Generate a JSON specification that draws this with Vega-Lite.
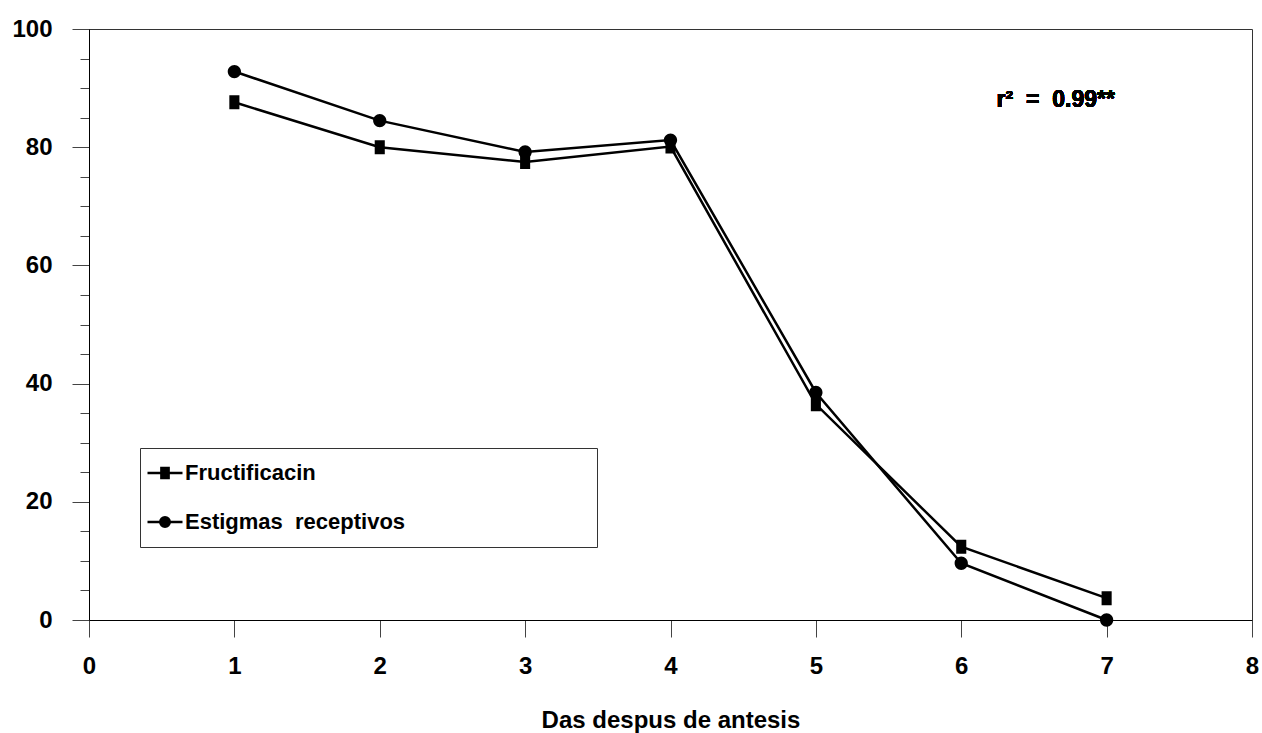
{
  "$schema": "https://vega.github.io/schema/vega-lite/v6.json",
  "width": 1163,
  "height": 591,
  "autosize": "none",
  "padding": {"left": 89, "top": 29, "right": 10, "bottom": 113},
  "background": "white",
  "config": {
    "font": "Liberation Sans",
    "view": {"stroke": "#333", "strokeWidth": 1}
  },
  "data": {
    "values": [
      {"dia": 1, "valor": 87.6, "serie": "Fructificacin"},
      {"dia": 2, "valor": 80.0, "serie": "Fructificacin"},
      {"dia": 3, "valor": 77.5, "serie": "Fructificacin"},
      {"dia": 4, "valor": 80.1, "serie": "Fructificacin"},
      {"dia": 5, "valor": 36.5, "serie": "Fructificacin"},
      {"dia": 6, "valor": 12.4, "serie": "Fructificacin"},
      {"dia": 7, "valor": 3.7, "serie": "Fructificacin"},
      {"dia": 1, "valor": 92.8, "serie": "Estigmas receptivos"},
      {"dia": 2, "valor": 84.5, "serie": "Estigmas receptivos"},
      {"dia": 3, "valor": 79.2, "serie": "Estigmas receptivos"},
      {"dia": 4, "valor": 81.2, "serie": "Estigmas receptivos"},
      {"dia": 5, "valor": 38.5, "serie": "Estigmas receptivos"},
      {"dia": 6, "valor": 9.6, "serie": "Estigmas receptivos"},
      {"dia": 7, "valor": 0, "serie": "Estigmas receptivos"}
    ]
  },
  "layer": [
    {
      "mark": {"type": "line", "color": "black", "strokeWidth": 2.5},
      "encoding": {
        "x": {
          "field": "dia", "type": "quantitative",
          "scale": {"domain": [0, 8], "nice": false, "zero": false},
          "axis": {
            "values": [0, 1, 2, 3, 4, 5, 6, 7, 8],
            "format": "d",
            "grid": false,
            "tickSize": 17, "tickColor": "#444", "domainColor": "black",
            "labelFontSize": 24, "labelFontWeight": "bold", "labelColor": "black",
            "labelPadding": 17, "labelFlush": false, "labelOverlap": false,
            "title": "Das despus de antesis",
            "titleFontSize": 24, "titleFontWeight": "bold", "titleColor": "black",
            "titlePadding": 30
          }
        },
        "y": {
          "field": "valor", "type": "quantitative",
          "scale": {"domain": [0, 100], "nice": false},
          "axis": {
            "orient": "left",
            "values": [0, 20, 40, 60, 80, 100],
            "format": "d",
            "grid": false,
            "tickSize": 17, "tickColor": "#444", "domainColor": "black",
            "labelFontSize": 24, "labelFontWeight": "bold", "labelColor": "black",
            "labelPadding": 20, "labelFlush": false, "labelOverlap": false,
            "title": null
          }
        },
        "detail": {"field": "serie", "type": "nominal"}
      }
    },
    {
      "mark": {"type": "point", "filled": true, "color": "black", "opacity": 1, "size": 196, "strokeWidth": 0},
      "encoding": {
        "x": {"field": "dia", "type": "quantitative"},
        "y": {
          "field": "valor", "type": "quantitative",
          "axis": {
            "orient": "left",
            "values": [0, 5, 10, 15, 20, 25, 30, 35, 40, 45, 50, 55, 60, 65, 70, 75, 80, 85, 90, 95, 100],
            "grid": false, "labels": false,
            "tickSize": 9, "tickColor": "#444", "domainColor": "black",
            "title": null
          }
        },
        "shape": {
          "field": "serie", "type": "nominal",
          "scale": {
            "domain": ["Fructificacin", "Estigmas receptivos"],
            "range": [
              "M-3.5,0H3.5M-0.72,-1H0.72V1H-0.72Z",
              "M-3.5,0H3.5M0.95,0A0.95,0.95,0,1,1,-0.95,0A0.95,0.95,0,1,1,0.95,0Z"
            ]
          },
          "legend": {
            "orient": "none", "legendX": 51, "legendY": 419,
            "title": null,
            "strokeColor": "#333",
            "padding": 14,
            "rowPadding": 27,
            "labelFont": "Liberation Sans", "labelFontSize": 22, "labelFontWeight": "bold", "labelColor": "black",
            "labelLimit": 800, "labelOffset": 9,
            "labelExpr": "replace(datum.label, ' ', '\u00a0 ') + pad('', 29, '\u00a0') + '\u200b'",
            "symbolSize": 100,
            "symbolFillColor": "black", "symbolStrokeColor": "black", "symbolStrokeWidth": 2.5,
            "encoding": {
              "symbols": {
                "stroke": {"value": "black"},
                "strokeWidth": {"value": 2.5},
                "fill": {"value": "black"}
              }
            }
          }
        }
      }
    },
    {
      "mark": {"type": "text", "font": "Liberation Sans", "fontSize": 23, "fontWeight": "bold", "color": "black", "align": "center", "baseline": "middle"},
      "encoding": {
        "x": {"datum": 6.65, "type": "quantitative"},
        "y": {"datum": 88, "type": "quantitative", "axis": null},
        "text": {"value": "r²\u00a0\u00a0=\u00a0\u00a00.99**"}
      }
    }
  ],
  "resolve": {"axis": {"y": "independent"}}
}
